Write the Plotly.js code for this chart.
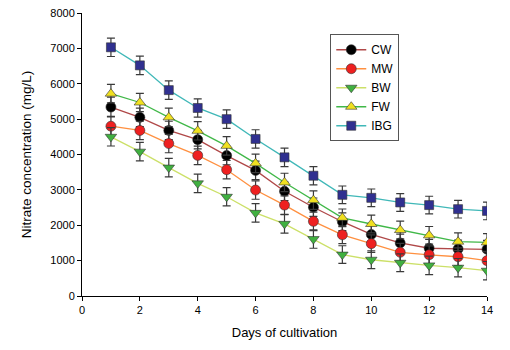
<!DOCTYPE html>
<html>
<head>
<meta charset="utf-8">
<script src="https://cdn.plot.ly/plotly-3.0.1.min.js"></script>
<style>html,body{margin:0;padding:0;background:#fff;}#chart{width:510px;height:350px;}</style>
</head>
<body>
<div id="chart"></div>
<script>
var days = [1,2,3,4,5,6,7,8,9,10,11,12,13,14];
var CW  = [5340,5050,4680,4420,3970,3550,2960,2510,2100,1740,1500,1350,1330,1320];
var MW  = [4800,4680,4310,3975,3570,2995,2570,2110,1730,1480,1235,1165,1110,1000];
var BW  = [4500,4080,3630,3185,2805,2350,2040,1610,1170,1025,940,865,800,715];
var FW  = [5720,5470,5050,4670,4245,3750,3210,2710,2210,2035,1865,1715,1535,1515];
var IBG = [7030,6520,5820,5315,5000,4440,3920,3400,2860,2775,2645,2570,2455,2405];
var errCW  = [280,260,260,260,260,260,260,260,250,250,250,250,250,250];
var errMW  = [280,260,260,260,260,260,260,260,250,250,250,250,250,250];
var errBW  = [260,260,260,260,260,260,260,260,250,250,250,260,260,260];
var errFW  = [260,260,260,260,260,260,260,260,250,250,250,250,250,250];
var errIBG = [260,260,260,260,260,260,260,260,250,250,250,250,250,250];

function tr(name, y, err, lineColor, symbol, mColor, size) {
  return {
    x: days, y: y, name: name, type: 'scatter', mode: 'lines+markers',
    line: {color: lineColor, width: 1.3},
    marker: {symbol: symbol, color: mColor, size: size, line: {color: '#333333', width: 0.6}},
    error_y: {type: 'data', array: err, visible: true, color: '#3a3a3a', thickness: 1.2, width: 4}
  };
}
var data = [
  tr('CW', CW, errCW, '#b04848', 'circle', '#000000', 10),
  tr('MW', MW, errMW, '#ff9040', 'circle', '#ee2020', 10),
  tr('BW', BW, errBW, '#cce068', 'triangle-down', '#40b040', 10),
  tr('FW', FW, errFW, '#40b848', 'triangle-up', '#f0e020', 10),
  tr('IBG', IBG, errIBG, '#40b8b8', 'square', '#303090', 9)
];
var layout = {
  width: 510, height: 350,
  margin: {l: 82, r: 23, t: 13, b: 54},
  paper_bgcolor: '#ffffff', plot_bgcolor: '#ffffff',
  font: {family: 'Liberation Sans, Arial, sans-serif', color: '#000', size: 11},
  showlegend: true,
  legend: {x: 0.613, y: 0.925, xanchor: 'left', yanchor: 'top', bordercolor: '#555', borderwidth: 1,
           font: {size: 12}, bgcolor: '#fff', tracegroupgap: 0},
  xaxis: {range: [0, 14], dtick: 2, tick0: 0, showgrid: false, zeroline: false,
          showline: true, linecolor: '#000', linewidth: 1, ticks: 'outside', ticklen: 4, tickcolor: '#000',
          title: {text: 'Days of cultivation', font: {size: 13}, standoff: 12}},
  yaxis: {range: [0, 8000], dtick: 1000, tick0: 0, showgrid: false, zeroline: false,
          showline: true, linecolor: '#000', linewidth: 1, ticks: 'outside', ticklen: 4, tickcolor: '#000',
          title: {text: 'Nitrate concentration (mg/L)', font: {size: 13.5}, standoff: 15}}
};
Plotly.newPlot('chart', data, layout, {displayModeBar: false, staticPlot: true});
</script>
</body>
</html>
